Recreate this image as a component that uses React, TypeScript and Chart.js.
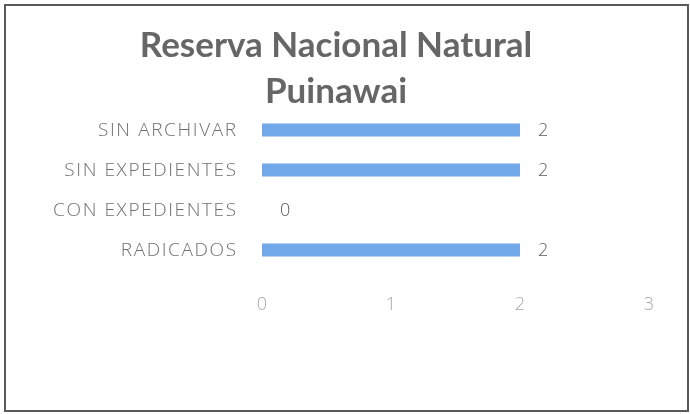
import React, { useEffect, useRef } from "react";
import { Chart, registerables } from "chart.js";

Chart.register(...registerables);

const titleLines = ["Reserva Nacional Natural", "Puinawai"];
const categories = ["SIN ARCHIVAR", "SIN EXPEDIENTES", "CON EXPEDIENTES", "RADICADOS"];
const values = [2, 2, 0, 2];
const xTicks = [0, 1, 2, 3];

const TITLE_FONT = "Lato, 'Open Sans', sans-serif";
const LABEL_FONT = "'Open Sans', Lato, sans-serif";

const framePlugin = {
  id: "frame",
  beforeDraw(chart: any) {
    const ctx = chart.ctx;
    ctx.save();
    ctx.fillStyle = "#ffffff";
    ctx.fillRect(0, 0, chart.width, chart.height);
    ctx.strokeStyle = "#5a5a5a";
    ctx.lineWidth = 2;
    ctx.strokeRect(5, 5, chart.width - 7, chart.height - 8);
    ctx.restore();
  },
};

const titlePlugin = {
  id: "twoLineTitle",
  afterDraw(chart: any) {
    const ctx = chart.ctx;
    ctx.save();
    ctx.fillStyle = "#666666";
    ctx.font = `bold 35px ${TITLE_FONT}`;
    ctx.textAlign = "center";
    ctx.textBaseline = "alphabetic";
    const cx = 336;
    titleLines.forEach((line, i) => {
      ctx.fillText(line, cx, 57 + i * 46);
    });
    ctx.restore();
  },
};

const categoryLabelPlugin = {
  id: "categoryLabels",
  afterDraw(chart: any) {
    const ctx = chart.ctx;
    const y = chart.scales.y;
    const spacing = 1.6;
    ctx.save();
    ctx.fillStyle = "#707070";
    ctx.font = `300 19px ${LABEL_FONT}`;
    (ctx as any).letterSpacing = `${spacing}px`;
    ctx.textAlign = "right";
    ctx.textBaseline = "middle";
    categories.forEach((c, i) => {
      ctx.fillText(c, y.right - 25 + spacing - 1, y.getPixelForValue(i) + 1);
    });
    ctx.restore();
  },
};

const dataLabelPlugin = {
  id: "dataLabels",
  afterDatasetsDraw(chart: any) {
    const ctx = chart.ctx;
    const meta = chart.getDatasetMeta(0);
    ctx.save();
    ctx.fillStyle = "#595959";
    ctx.font = `300 18px ${LABEL_FONT}`;
    ctx.textAlign = "left";
    ctx.textBaseline = "middle";
    meta.data.forEach((bar: any, i: number) => {
      ctx.fillText(String(values[i]), bar.x + 18, bar.y + 1);
    });
    ctx.restore();
  },
};

export default function App() {
  const ref = useRef<HTMLCanvasElement | null>(null);
  useEffect(() => {
    document.body.style.margin = "0";
    if (!ref.current) return;
    const chart = new Chart(ref.current, {
      type: "bar",
      data: {
        labels: categories,
        datasets: [
          {
            data: values,
            backgroundColor: "#70a8ea",
            borderWidth: 0,
            barPercentage: 0.33,
            categoryPercentage: 1,
          },
        ],
      },
      options: {
        indexAxis: "y",
        animation: false,
        responsive: false,
        maintainAspectRatio: false,
        layout: { padding: { top: 110, right: 41, bottom: 100, left: 0 } },
        plugins: {
          legend: { display: false },
          title: { display: false },
          tooltip: { enabled: false },
        },
        scales: {
          x: {
            min: 0,
            max: 3,
            afterFit: (s: any) => {
              s.height = 44;
            },
            afterBuildTicks: (s: any) => {
              s.ticks = xTicks.map((v) => ({ value: v }));
            },
            grid: { display: false, drawTicks: false },
            border: { display: false },
            ticks: {
              color: "#a8a8a8",
              font: { family: LABEL_FONT, size: 18, weight: "300" },
              padding: 24,
            },
          },
          y: {
            afterFit: (s: any) => {
              s.width = 262;
            },
            grid: { display: false, drawTicks: false },
            border: { display: false },
            ticks: { display: false },
          },
        },
      },
      plugins: [framePlugin, titlePlugin, categoryLabelPlugin, dataLabelPlugin],
    });
    return () => chart.destroy();
  }, []);
  return <canvas ref={ref} width={690} height={414} style={{ display: "block" }} />;
}
